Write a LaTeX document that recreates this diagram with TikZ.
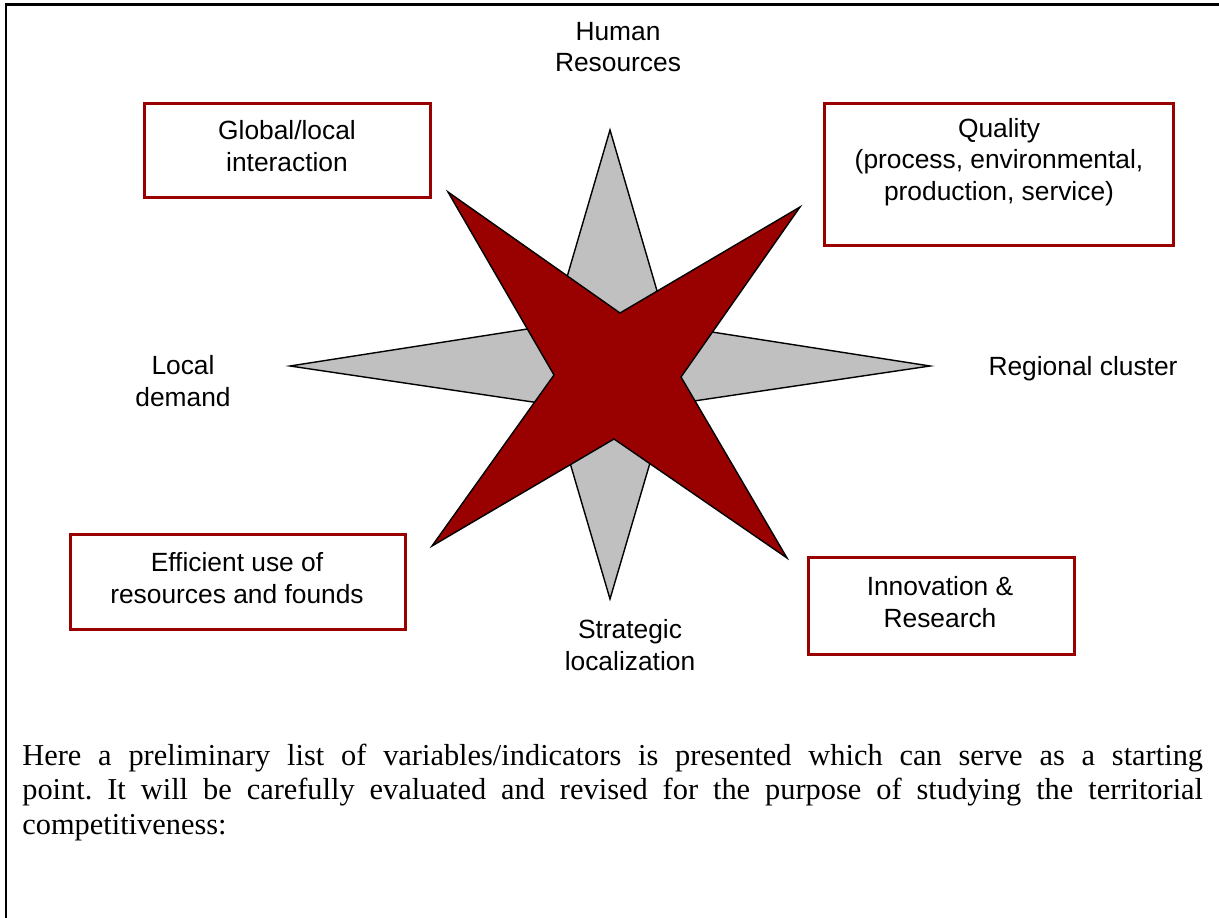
\documentclass[tikz,border=0pt]{standalone}
\usepackage{fontspec}
\setmainfont{Liberation Serif}
\setsansfont{Liberation Sans}
\definecolor{darkred}{RGB}{153,0,0}
\definecolor{stargray}{RGB}{192,192,192}

\begin{document}
\begin{tikzpicture}
    [
        x = 0.02cm, y = -0.02cm,
        every node/.style = {align=center, inner sep=0pt,
            font=\sffamily\fontsize{15}{18.1}\selectfont},
        factor/.style = {draw=darkred, line width=1.7pt},
        star/.style = {draw=black, line width=0.8pt}
    ]
    \useasboundingbox (0,0) rectangle (1219,918);
    \draw[line width=1.7pt] (6,918) -- (6,5) -- (1219,5);

    \filldraw[star, fill=stargray] (610,130) -- (667,325) -- (930,366)
        -- (667,405) -- (610,599) -- (553,405) -- (290,366) -- (553,325) -- cycle;
    \filldraw[star, fill=darkred] (448,192) -- (620,313) -- (800,207)
        -- (681,377) -- (787,558) -- (614,439) -- (432,546) -- (554,375) -- cycle;

    \node (human) at (618,47) {Human\\Resources};
    \node (local) at (183,381) {Local\\demand};
    \node (regional) at (1083,369) {Regional cluster};
    \node (strategic) at (630,645) {Strategic\\localization};

    \node[factor, minimum width=5.72cm, minimum height=1.88cm] (global) at (287.5,150.5) {};
    \node[factor, minimum width=6.98cm, minimum height=2.84cm] (quality) at (999,174.5) {};
    \node[factor, minimum width=6.70cm, minimum height=1.90cm] (efficient) at (238,582) {};
    \node[factor, minimum width=5.32cm, minimum height=1.94cm] (innovation) at (941.5,606) {};

    \node (globaltext) at (287,146) {Global/local\\interaction};
    \node (qualitytext) at (999,162) {Quality\\(process, environmental,\\production, service)};
    \node (efficienttext) at (237,578) {Efficient use of\\resources and founds};
    \node (innovationtext) at (940,602) {Innovation \&\\Research};

    \node[anchor=base west, text width=672pt, align=justify,
        font=\frenchspacing\fontsize{17.3}{19.8}\selectfont] (intro) at (22,765)
        {Here a preliminary list of variables/indicators is presented which can serve as a starting\linebreak
        point. It will be carefully evaluated and revised for the purpose of studying the territorial\linebreak
        competitiveness:};
\end{tikzpicture}
\end{document}
